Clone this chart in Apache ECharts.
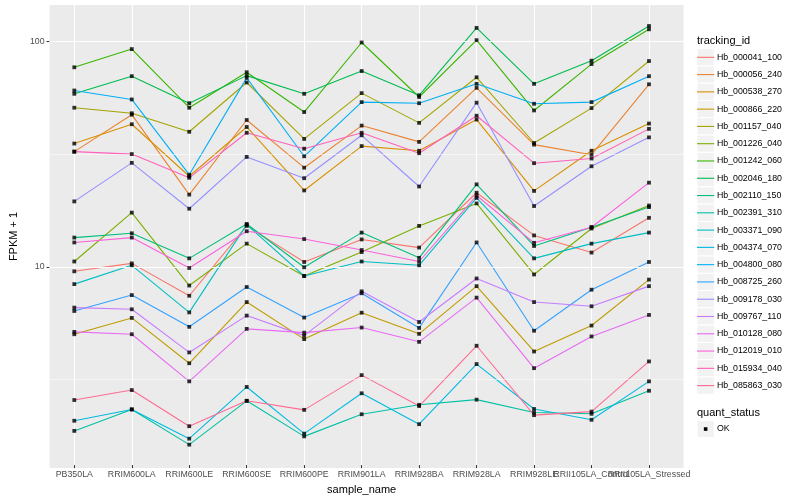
<!DOCTYPE html>
<html><head><meta charset="utf-8">
<script src="https://cdn.jsdelivr.net/npm/echarts@6.0.0/dist/echarts.min.js"></script>
<style>html,body{margin:0;padding:0;background:#fff}#c{width:800px;height:500px}</style>
</head><body><div id="c"></div>
<script>
// ---- data ----
const categories = ['PB350LA','RRIM600LA','RRIM600LE','RRIM600SE','RRIM600PE','RRIM901LA','RRIM928BA','RRIM928LA','RRIM928LE','RRII105LA_Control','RRII105LA_Stressed'];
const seriesNames = ['Hb_000041_100','Hb_000056_240','Hb_000538_270','Hb_000866_220','Hb_001157_040','Hb_001226_040','Hb_001242_060','Hb_002046_180','Hb_002110_150','Hb_002391_310','Hb_003371_090','Hb_004374_070','Hb_004800_080','Hb_008725_260','Hb_009178_030','Hb_009767_110','Hb_010128_080','Hb_012019_010','Hb_015934_040','Hb_085863_030'];
const Hb_000041_100 = [9.4, 10.2, 7.31, 15.0, 10.35, 13.05, 12.0, 21.1, 13.6, 11.4, 16.3];
const Hb_000056_240 = [32.2, 47.1, 20.7, 44.6, 27.3, 42.1, 35.6, 62.1, 34.6, 31.2, 64.4];
const Hb_000538_270 = [35.0, 42.7, 25.0, 41.5, 21.6, 34.1, 32.5, 44.8, 21.5, 32.5, 43.0];
const Hb_000866_220 = [4.92, 5.82, 3.65, 6.85, 4.68, 6.14, 4.94, 8.07, 4.12, 5.38, 8.63];
const Hb_001157_040 = [50.6, 47.8, 39.5, 65.6, 36.7, 58.8, 43.3, 69.2, 35.2, 50.4, 81.8];
const Hb_001226_040 = [10.4, 17.2, 8.12, 12.5, 8.96, 11.46, 15.0, 18.9, 9.1, 14.6, 18.5];
const Hb_001242_060 = [76.7, 92.5, 50.6, 72.9, 48.4, 99.0, 56.5, 101.4, 49.2, 79.3, 113.4];
const Hb_002046_180 = [58.4, 70.0, 53.0, 70.4, 58.4, 73.8, 57.5, 115.0, 64.7, 82.1, 117.3];
const Hb_002110_150 = [13.3, 13.9, 10.74, 15.3, 9.8, 14.0, 10.8, 23.0, 12.2, 14.8, 18.2];
const Hb_002391_310 = [1.82, 2.27, 1.58, 2.48, 1.72, 2.16, 2.38, 2.51, 2.20, 2.17, 2.75];
const Hb_003371_090 = [8.24, 10.0, 6.16, 15.2, 8.96, 10.4, 10.0, 20.0, 10.74, 12.5, 14.0];
const Hb_004374_070 = [2.02, 2.27, 1.68, 2.86, 1.77, 2.68, 1.95, 3.62, 2.28, 2.04, 3.03];
const Hb_004800_080 = [60.4, 55.1, 25.4, 68.8, 30.7, 53.6, 53.0, 64.7, 52.7, 53.6, 70.0];
const Hb_008725_260 = [6.25, 7.36, 5.31, 8.0, 5.84, 7.5, 5.25, 12.65, 5.1, 7.78, 10.35];
const Hb_009178_030 = [19.3, 28.7, 17.9, 30.5, 24.5, 38.1, 22.5, 53.3, 18.4, 27.7, 37.3];
const Hb_009767_110 = [6.47, 6.36, 4.08, 5.96, 4.85, 7.65, 5.58, 8.73, 6.85, 6.56, 8.07];
const Hb_010128_080 = [5.04, 4.92, 3.03, 5.2, 5.0, 5.27, 4.55, 7.17, 3.47, 4.81, 6.0];
const Hb_012019_010 = [12.65, 13.3, 9.73, 14.2, 13.1, 11.7, 10.4, 20.5, 12.6, 14.8, 23.4];
const Hb_015934_040 = [32.2, 31.4, 24.6, 39.1, 33.2, 39.1, 31.7, 46.6, 28.6, 30.0, 40.7];
const Hb_085863_030 = [2.5, 2.77, 1.91, 2.48, 2.26, 3.23, 2.35, 4.37, 2.14, 2.22, 3.72];
const seriesValues = [Hb_000041_100,Hb_000056_240,Hb_000538_270,Hb_000866_220,Hb_001157_040,Hb_001226_040,Hb_001242_060,Hb_002046_180,Hb_002110_150,Hb_002391_310,Hb_003371_090,Hb_004374_070,Hb_004800_080,Hb_008725_260,Hb_009178_030,Hb_009767_110,Hb_010128_080,Hb_012019_010,Hb_015934_040,Hb_085863_030];
const yTickValues = [10, 100];
const yMinorGrid = [3.1623, 31.623];
const statusLabels = ['OK'];

// ---- style ----
const palette = ['#F8766D','#EA8331','#D89000','#C09B00','#A3A500','#7CAE00','#39B600','#00BB4E','#00BF7D','#00C1A3','#00BFC4','#00BAE0','#00B0F6','#35A2FF','#9590FF','#C77CFF','#E76BF3','#FA62DB','#FF62BC','#FF6C91'];
const FONT = '"Liberation Sans", Arial, Helvetica, sans-serif';
const PANEL_L = 40, PANEL_T = 5, PANEL_W = 643.5, PANEL_H = 463;
const PTS_L = 74.3, PTS_W = 574.7;
const YMIN = 1.28, YMAX = 145.6;
const KEY = 17.28, LEG_X = 697, LEG_TOP = 48.66;

const chart = echarts.init(document.getElementById('c'), null, {renderer: 'canvas'});

const lineSeries = seriesNames.map((n, i) => ({
  name: n, type: 'line', xAxisIndex: 1, yAxisIndex: 1,
  data: seriesValues[i], showSymbol: false, symbol: 'none', z: 3,
  itemStyle: {color: palette[i]}, lineStyle: {color: palette[i], width: 1.1},
  emphasis: {disabled: true}, silent: true
}));
const pointData = [];
seriesValues.forEach(arr => arr.forEach((v, j) => pointData.push([j, v])));

const graphics = [];
graphics.push({type: 'text', x: LEG_X, y: 40.7, style: {text: 'tracking_id', fontSize: 11, fontFamily: FONT, fill: '#000', verticalAlign: 'middle', align: 'left'}});
seriesNames.forEach((n, i) => {
  graphics.push({type: 'rect', shape: {x: LEG_X, y: LEG_TOP + KEY * i, width: KEY, height: KEY}, style: {fill: '#F2F2F2', stroke: '#fff', lineWidth: 1}, z: -1});
});
const qTop = 420.4;
graphics.push({type: 'text', x: LEG_X, y: 412.7, style: {text: 'quant_status', fontSize: 11, fontFamily: FONT, fill: '#000', verticalAlign: 'middle', align: 'left'}});
graphics.push({type: 'rect', shape: {x: LEG_X, y: qTop, width: KEY, height: KEY}, style: {fill: '#F2F2F2', stroke: '#fff', lineWidth: 1}});
graphics.push({type: 'rect', shape: {x: LEG_X + KEY / 2 - 1.8, y: qTop + KEY / 2 - 1.8, width: 3.6, height: 3.6}, style: {fill: '#000'}});
graphics.push({type: 'text', x: LEG_X + KEY + 2.6, y: qTop + KEY / 2, style: {text: statusLabels[0], fontSize: 8.8, fontFamily: FONT, fill: '#000', verticalAlign: 'middle', align: 'left'}});

const option = {
  animation: false,
  backgroundColor: '#fff',
  grid: [
    {left: PANEL_L, top: PANEL_T, width: PANEL_W, height: PANEL_H, show: true, backgroundColor: '#EBEBEB', borderWidth: 0},
    {left: PTS_L, top: PANEL_T, width: PTS_W, height: PANEL_H, show: false}
  ],
  xAxis: [
    {gridIndex: 0, type: 'value', min: 0, max: 1, show: false},
    {gridIndex: 1, type: 'category', data: categories, boundaryGap: false,
     axisLine: {show: false},
     axisTick: {show: true, length: 3, lineStyle: {color: '#333', width: 1}},
     axisLabel: {interval: 0, color: '#4D4D4D', fontSize: 8.8, fontFamily: FONT, margin: 5},
     splitLine: {show: true, lineStyle: {color: '#fff', width: 1.1}},
     name: 'sample_name', nameLocation: 'middle', nameGap: 15.3,
     nameTextStyle: {color: '#000', fontSize: 11, fontFamily: FONT}}
  ],
  yAxis: [
    {gridIndex: 0, type: 'log', logBase: 10, min: YMIN, max: YMAX,
     axisLine: {show: false}, splitLine: {show: false},
     axisTick: {show: true, length: 3, customValues: yTickValues, lineStyle: {color: '#333', width: 1}},
     axisLabel: {customValues: yTickValues, color: '#4D4D4D', fontSize: 8.8, fontFamily: FONT, margin: 5,
       formatter: v => (Math.abs(v - 10) < 0.01 || Math.abs(v - 100) < 0.1) ? String(Math.round(v)) : ''},
     name: 'FPKM + 1', nameLocation: 'middle', nameGap: 22.5, nameRotate: 90,
     nameTextStyle: {color: '#000', fontSize: 11, fontFamily: FONT}},
    {gridIndex: 1, type: 'log', logBase: 10, min: YMIN, max: YMAX, show: false}
  ],
  legend: {
    orient: 'vertical', left: LEG_X, top: LEG_TOP, padding: 0,
    itemWidth: KEY, itemHeight: 1.1, itemGap: 0, icon: 'rect', selectedMode: false,
    textStyle: {fontSize: 8.8, fontFamily: FONT, color: '#000', lineHeight: KEY, padding: [0, 0, 0, -2.4]},
    data: seriesNames.map((n, i) => ({name: n, itemStyle: {color: palette[i]}}))
  },
  graphic: graphics,
  series: [
    {type: 'line', name: '_grid', xAxisIndex: 0, yAxisIndex: 0, data: [[0.5, 10]], symbol: 'none', showSymbol: false,
     lineStyle: {opacity: 0}, z: 1, silent: true,
     markLine: {silent: true, symbol: ['none', 'none'], label: {show: false}, animation: false,
       data: yTickValues.map(v => ({yAxis: v, lineStyle: {color: '#fff', width: 1.1, type: 'solid'}}))
         .concat(yMinorGrid.map(v => ({yAxis: v, lineStyle: {color: '#fff', width: 0.55, type: 'solid'}})))}}
  ].concat(lineSeries).concat([
    {type: 'scatter', name: 'quant_status', xAxisIndex: 1, yAxisIndex: 1, data: pointData, symbol: 'rect', symbolSize: 3.8,
     itemStyle: {color: '#000'}, z: 5, silent: true}
  ])
};
chart.setOption(option);
</script>
</body></html>
